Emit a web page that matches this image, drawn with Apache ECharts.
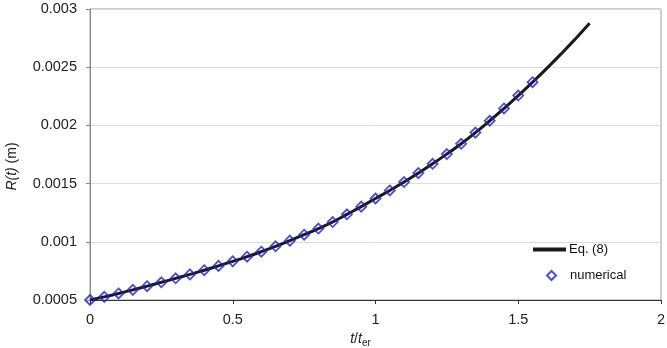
<!DOCTYPE html>
<html>
<head>
<meta charset="utf-8">
<script src="https://cdn.jsdelivr.net/npm/echarts@6/dist/echarts.min.js"></script>
<style>
  html, body { margin: 0; padding: 0; background: #fff; }
  #main { width: 667px; height: 348px; }
</style>
</head>
<body>
<div id="main"></div>
<script>
// t / t_er values of the numerical points
const tNum = [0, 0.05, 0.1, 0.15, 0.2, 0.25, 0.3, 0.35, 0.4, 0.45, 0.5, 0.55, 0.6, 0.65, 0.7, 0.75,
    0.8, 0.85, 0.9, 0.95, 1.0, 1.05, 1.1, 1.15, 1.2, 1.25, 1.3, 1.35, 1.4, 1.45, 1.5, 1.55]
// R(t) in m, numerical
const rNum = [0.000500, 0.000527, 0.000556, 0.000587, 0.000619, 0.000652, 0.000686, 0.000720,
    0.000756, 0.000793, 0.000832, 0.000872, 0.000915, 0.000961, 0.001010, 0.001061,
    0.001114, 0.001170, 0.001236, 0.001302, 0.001372, 0.001441, 0.001513, 0.001590,
    0.001670, 0.001754, 0.001842, 0.001938, 0.002040, 0.002146, 0.002256, 0.002371]
// Eq. (8) continues past the numerical run up to 1.75
const tEq = tNum.concat([1.6, 1.65, 1.7, 1.75])
const rEq = rNum.concat([0.002490, 0.002614, 0.002743, 0.002877])

const pairs = (xs, ys) => xs.map((x, i) => [x, ys[i]])

const font = 'Liberation Sans, Arial, sans-serif'
const blue = '#2020c8'

var myChart = echarts.init(document.getElementById('main'));

var option = {
    animation: false,
    grid: {
        left: 90,
        right: 6,
        top: 9,
        bottom: 48,
        outerBoundsMode: 'none',
        containLabel: false,
        show: true,
        borderColor: '#9a9a9a',
        borderWidth: 1
    },
    legend: [
        {
            left: 528,
            top: 238,
            itemWidth: 33,
            itemHeight: 4,
            icon: 'rect',
            textStyle: { fontFamily: font, fontSize: 13, color: '#111', padding: [0, 0, 0, -2] },
            data: [{ name: 'Eq. (8)', itemStyle: { color: '#1a1a1a' } }]
        },
        {
            left: 541,
            top: 264,
            itemWidth: 9,
            itemHeight: 9,
            icon: 'diamond',
            textStyle: { fontFamily: font, fontSize: 13, color: '#111', padding: [0, 0, 0, 9] },
            data: ['numerical']
        }
    ],
    xAxis: {
        type: 'value',
        min: 0,
        max: 2,
        interval: 0.5,
        name: '{i|t}{n|/}{i|t}{s|er}',
        nameLocation: 'middle',
        nameGap: 31,
        nameTextStyle: {
            padding: [0, 30, 0, 0],
            rich: {
                i: { fontFamily: font, fontSize: 14, fontStyle: 'italic', color: '#222' },
                n: { fontFamily: font, fontSize: 14, color: '#222' },
                s: { fontFamily: font, fontSize: 10, color: '#222', padding: [7, 0, 0, 0] }
            }
        },
        axisLine: { lineStyle: { color: '#333', width: 1 } },
        axisTick: { show: true, inside: false, length: 4, lineStyle: { color: '#333' } },
        axisLabel: { fontFamily: font, fontSize: 14.5, color: '#222', margin: 12 },
        splitLine: { show: false }
    },
    yAxis: {
        type: 'value',
        min: 0.0005,
        max: 0.003,
        interval: 0.0005,
        name: '{i|R(t)}{n| (m)}',
        nameLocation: 'middle',
        nameGap: 71,
        nameRotate: 90,
        nameTextStyle: {
            padding: [0, 24, 0, 0],
            rich: {
                i: { fontFamily: font, fontSize: 14, fontStyle: 'italic', color: '#222' },
                n: { fontFamily: font, fontSize: 14, color: '#222' }
            }
        },
        axisLine: { show: true, lineStyle: { color: '#888', width: 1 } },
        axisTick: { show: true, inside: false, length: 4, lineStyle: { color: '#888' } },
        axisLabel: {
            fontFamily: font, fontSize: 14.5, color: '#222', margin: 13,
            formatter: v => String(parseFloat(v.toFixed(4)))
        },
        splitLine: { show: true, lineStyle: { color: '#dcdcdc', width: 1 } }
    },
    series: [
        {
            name: 'Eq. (8)',
            type: 'line',
            data: pairs(tEq, rEq),
            symbol: 'none',
            smooth: true,
            lineStyle: { color: '#1a1a1a', width: 3 },
            itemStyle: { color: '#1a1a1a' },
            z: 2
        },
        {
            name: 'numerical',
            type: 'scatter',
            data: pairs(tNum, rNum),
            symbol: 'diamond',
            symbolSize: 10,
            itemStyle: { color: 'rgba(255,255,255,0)', borderColor: blue, borderWidth: 1.8 },
            z: 3
        }
    ]
};

myChart.setOption(option);
</script>
</body>
</html>
